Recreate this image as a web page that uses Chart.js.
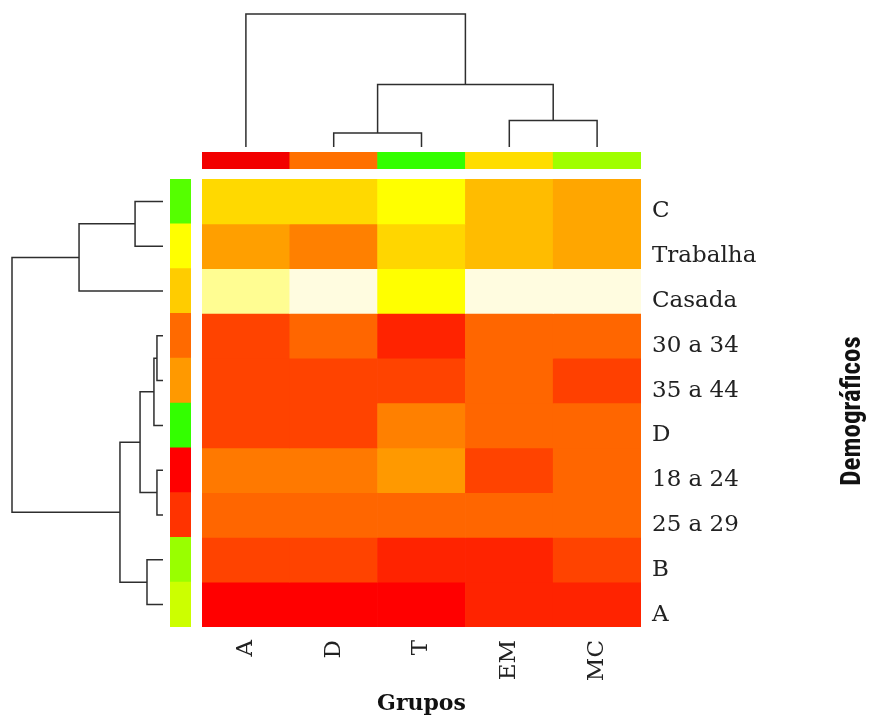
<!DOCTYPE html>
<html>
<head>
<meta charset="utf-8">
<script src="https://cdn.jsdelivr.net/npm/chart.js@4.4.1/dist/chart.umd.min.js"></script>
<style>
  html, body { margin: 0; padding: 0; background: #fff; }
  #wrap { position: relative; width: 870px; height: 717px; overflow: hidden; }
  #wrap canvas { position: absolute; }
</style>
</head>
<body>
<div id="wrap">
  <canvas id="heat" width="870" height="717" style="left:0;top:0"></canvas>
  <canvas id="colTree" width="451" height="150" style="left:196px;top:0"></canvas>
  <canvas id="colBar" width="439" height="17" style="left:202px;top:152px"></canvas>
  <canvas id="rowBar" width="21" height="448" style="left:170px;top:179px"></canvas>
  <canvas id="rowTree" width="170" height="448" style="left:0;top:179px"></canvas>
</div>
<script>
// columns (groups) and rows (demographics), in dendrogram order
const colLabels = ['A', 'D', 'T', 'EM', 'MC'];
const rowLabels = ['C', 'Trabalha', 'Casada', '30 a 34', '35 a 44', 'D', '18 a 24', '25 a 29', 'B', 'A'];

// cell values, one list per row (0 = red, 0.8 = yellow, 1 = pale cream)
const cellValues = [
  [0.68, 0.68, 0.80, 0.59, 0.52],
  [0.50, 0.40, 0.67, 0.59, 0.52],
  [0.93, 1.00, 0.80, 1.00, 1.00],
  [0.21, 0.32, 0.11, 0.32, 0.32],
  [0.21, 0.21, 0.21, 0.32, 0.20],
  [0.21, 0.21, 0.40, 0.32, 0.32],
  [0.38, 0.38, 0.48, 0.21, 0.32],
  [0.32, 0.32, 0.32, 0.32, 0.32],
  [0.21, 0.21, 0.11, 0.11, 0.21],
  [0.00, 0.00, 0.00, 0.11, 0.11]
];

// side colour bars (cluster membership)
const colSideColors = ['#f20000', '#ff7000', '#33ff00', '#ffdd00', '#a0ff00'];
const rowSideColors = ['#55ff00', '#ffff00', '#ffcc00', '#ff6a00', '#ff9900',
                       '#33ff00', '#ff0000', '#ff3300', '#99ff00', '#ccff00'];

// dendrograms, hclust style: negative = leaf (1-based), positive = earlier merge
const colMerge = [[-2, -3], [-4, -5], [1, 2], [-1, 3]];
const colHeight = [0.105, 0.2, 0.47, 1.0];
const rowMerge = [[-1, -2], [1, -3], [-4, -5], [3, -6], [-7, -8], [4, 5], [-9, -10], [6, 7], [2, 8]];
const rowHeight = [0.185, 0.556, 0.04, 0.06, 0.04, 0.152, 0.106, 0.285, 1.0];

const serif = '"DejaVu Serif", "Liberation Serif", serif';
const lineColor = '#2e2e2e';

function heatColor(v) {
  if (v <= 0.8) return `rgb(255, ${Math.round(v / 0.8 * 255)}, 0)`;
  const t = (v - 0.8) / 0.2;
  return `rgb(255, ${Math.round(255 - 3 * t)}, ${Math.round(224 * t)})`;
}

// turn a merge table into one U-shaped segment list per merge
function dendroSegments(merge, height) {
  const pos = [], hgt = [];
  const at = (k) => k < 0 ? { p: -k - 0.5, h: 0 } : { p: pos[k - 1], h: hgt[k - 1] };
  return merge.map((m, i) => {
    const a = at(m[0]), b = at(m[1]);
    pos[i] = (a.p + b.p) / 2;
    hgt[i] = height[i];
    return [[a.p, a.h], [a.p, height[i]], [b.p, height[i]], [b.p, b.h]];
  });
}

const hidden = { display: false };

// ---- main heatmap ----
new Chart(document.getElementById('heat'), {
  type: 'bar',
  data: {
    labels: colLabels,
    datasets: rowLabels.map((name, r) => ({
      label: name,
      data: colLabels.map(() => [r, r + 1]),
      backgroundColor: cellValues[r].map(heatColor),
      borderWidth: 0,
      grouped: false,
      barPercentage: 1,
      categoryPercentage: 1
    }))
  },
  options: {
    responsive: false,
    animation: false,
    layout: { padding: { left: 202, top: 179, right: 0, bottom: 0 } },
    plugins: {
      legend: { display: false },
      tooltip: {
        callbacks: {
          title: (items) => `${items[0].dataset.label} / ${items[0].label}`,
          label: (item) => `valor: ${cellValues[item.datasetIndex][item.dataIndex]}`
        }
      }
    },
    scales: {
      x: {
        grid: { display: false },
        border: { display: false },
        ticks: {
          minRotation: 90,
          maxRotation: 90,
          padding: 5,
          color: '#222',
          font: { family: serif, size: 23 }
        },
        title: {
          display: true,
          text: 'Grupos',
          color: '#111',
          padding: { top: 0, bottom: 0 },
          font: { family: serif, size: 22, weight: 'bold' }
        },
        afterFit: (scale) => { scale.height = 90; }
      },
      y: {
        position: 'right',
        min: 0,
        max: rowLabels.length,
        reverse: true,
        grid: { display: false },
        border: { display: false },
        ticks: {
          padding: 3,
          labelOffset: 10,
          autoSkip: false,
          color: '#222',
          font: { family: serif, size: 23 },
          callback: (v, i) => rowLabels[i]
        },
        afterBuildTicks: (scale) => {
          scale.ticks = rowLabels.map((_, i) => ({ value: i + 0.5 }));
        },
        afterFit: (scale) => { scale.width = 229; }
      }
    }
  },
  plugins: [{
    id: 'sideTitle',
    afterDraw(chart) {
      const ctx = chart.ctx;
      ctx.save();
      ctx.translate(853, 411);
      ctx.rotate(-Math.PI / 2);
      ctx.fillStyle = '#111';
      ctx.font = 'bold 27px "Liberation Sans Narrow", "Roboto Condensed", "Liberation Sans", sans-serif';
      ctx.textAlign = 'center';
      ctx.textBaseline = 'middle';
      ctx.fillText('Demográficos', 0, 0);
      ctx.restore();
    }
  }]
});

// ---- column dendrogram ----
new Chart(document.getElementById('colTree'), {
  type: 'scatter',
  data: {
    datasets: dendroSegments(colMerge, colHeight).map((seg) => ({
      data: seg.map(([p, h]) => ({ x: p, y: h })),
      showLine: true,
      borderColor: lineColor,
      borderWidth: 1.5,
      pointRadius: 0,
      clip: false
    }))
  },
  options: {
    responsive: false,
    animation: false,
    layout: { padding: { left: 6, right: 6, top: 14, bottom: 3 } },
    plugins: { legend: hidden, tooltip: { enabled: false } },
    scales: {
      x: { type: 'linear', min: 0, max: colLabels.length, display: false },
      y: { type: 'linear', min: 0, max: 1, display: false }
    }
  }
});

// ---- row dendrogram ----
new Chart(document.getElementById('rowTree'), {
  type: 'scatter',
  data: {
    datasets: dendroSegments(rowMerge, rowHeight).map((seg) => ({
      data: seg.map(([p, h]) => ({ x: h, y: p })),
      showLine: true,
      borderColor: lineColor,
      borderWidth: 1.5,
      pointRadius: 0,
      clip: false
    }))
  },
  options: {
    responsive: false,
    animation: false,
    layout: { padding: { left: 12, right: 7, top: 0, bottom: 0 } },
    plugins: { legend: hidden, tooltip: { enabled: false } },
    scales: {
      x: { type: 'linear', min: 0, max: 1, reverse: true, display: false },
      y: { type: 'linear', min: 0, max: rowLabels.length, reverse: true, display: false }
    }
  }
});

// ---- side colour bars ----
new Chart(document.getElementById('colBar'), {
  type: 'bar',
  data: {
    labels: colLabels,
    datasets: [{
      data: colLabels.map(() => 1),
      backgroundColor: colSideColors,
      borderWidth: 0,
      barPercentage: 1,
      categoryPercentage: 1
    }]
  },
  options: {
    responsive: false,
    animation: false,
    plugins: { legend: hidden, tooltip: { enabled: false } },
    scales: {
      x: { display: false },
      y: { min: 0, max: 1, display: false }
    }
  }
});

new Chart(document.getElementById('rowBar'), {
  type: 'bar',
  data: {
    labels: rowLabels,
    datasets: [{
      data: rowLabels.map(() => 1),
      backgroundColor: rowSideColors,
      borderWidth: 0,
      barPercentage: 1,
      categoryPercentage: 1
    }]
  },
  options: {
    indexAxis: 'y',
    responsive: false,
    animation: false,
    plugins: { legend: hidden, tooltip: { enabled: false } },
    scales: {
      x: { min: 0, max: 1, display: false },
      y: { display: false }
    }
  }
});
</script>
</body>
</html>
